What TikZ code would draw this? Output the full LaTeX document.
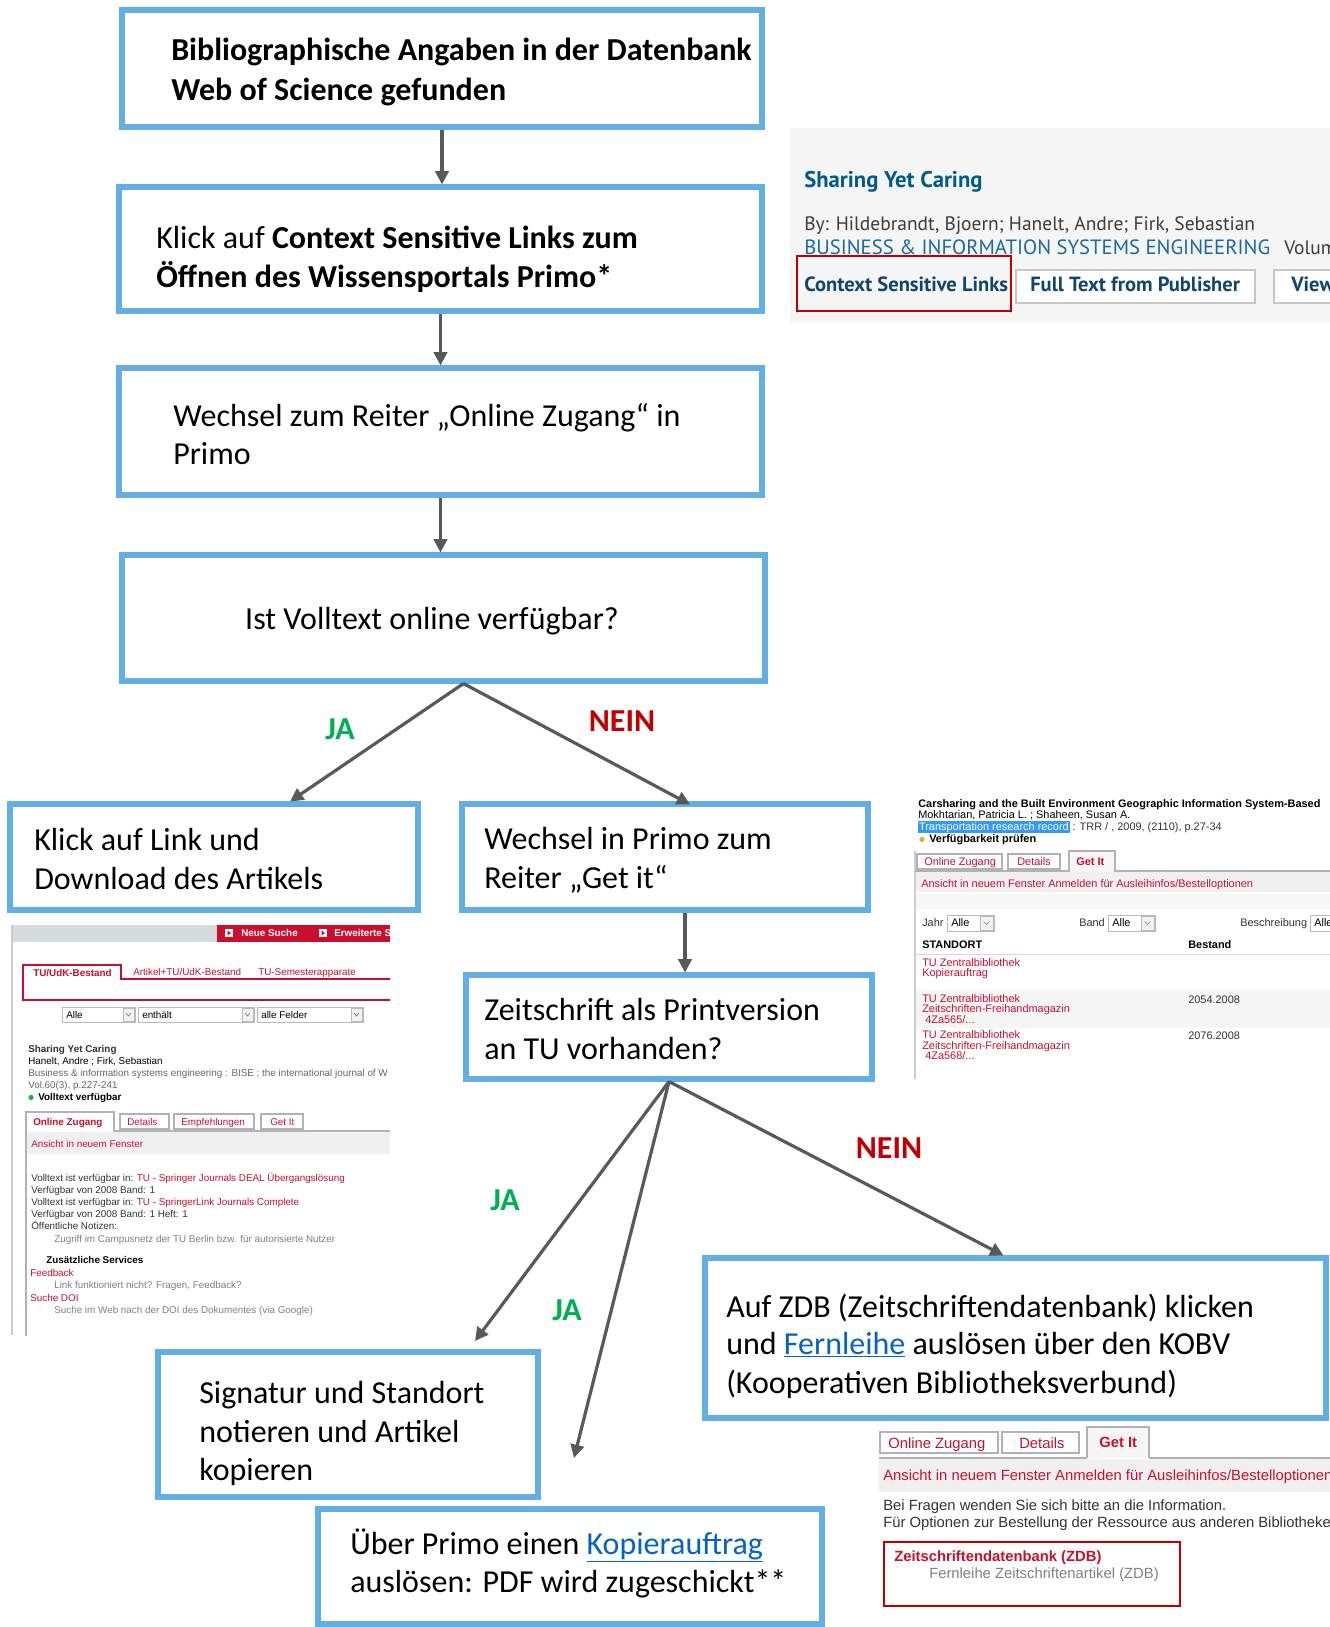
\documentclass[tikz,border=0pt]{standalone}
\usepackage{fontspec}
\setmainfont{Carlito}
\newfontfamily\arialf{Liberation Sans}
\newfontfamily\wosf{PT Sans}
\usetikzlibrary{arrows.meta,fit,calc}
\definecolor{boxblue}{RGB}{99,174,228}
\definecolor{arrgray}{RGB}{89,89,89}
\definecolor{jagreen}{RGB}{0,176,80}
\definecolor{neinred}{RGB}{192,0,0}
\definecolor{linkblue}{RGB}{5,99,193}
\definecolor{wosbg}{RGB}{245,245,245}
\definecolor{wostitle}{RGB}{0,90,140}
\definecolor{wosblue}{RGB}{25,105,165}
\definecolor{wosdark}{RGB}{16,70,110}
\definecolor{wostext}{RGB}{60,60,60}
\definecolor{primored}{RGB}{200,16,46}
\definecolor{ptext}{RGB}{51,51,51}
\definecolor{pgray}{RGB}{128,128,128}
\definecolor{hlblue}{RGB}{51,153,255}
\definecolor{vgreen}{RGB}{40,170,60}
\definecolor{vyellow}{RGB}{220,180,40}
\definecolor{headgray}{RGB}{214,219,224}
\begin{document}
\begin{tikzpicture}[x=0.75pt,y=-0.75pt,
 box/.style={draw=boxblue, line width=3.8pt, fill=white, inner sep=0pt},
 mt/.style={font=\fontsize{24}{29}\selectfont, anchor=base west, inner sep=0pt},
 conn/.style={draw=arrgray, line width=2.4pt, -{Triangle[length=10pt,width=10pt]}},
 jalab/.style={text=jagreen, font=\bfseries\fontsize{24}{29}\selectfont, inner sep=0pt},
 neinlab/.style={text=neinred, font=\bfseries\fontsize{24}{29}\selectfont, inner sep=0pt},
 wos/.style={font=\wosf\fontsize{14.6}{17}\selectfont, anchor=base west, inner sep=0pt, text=wostext},
 wosb/.style={wos, font=\wosf\bfseries\fontsize{15.4}{18}\selectfont, text=wosdark},
 pa/.style={font=\arialf\fontsize{7.4}{8.5}\selectfont, anchor=base west, inner sep=0pt, text=ptext},
 pab/.style={pa, font=\arialf\bfseries\fontsize{7.4}{8.5}\selectfont},
 pc/.style={font=\arialf\fontsize{8.2}{9.5}\selectfont, anchor=base west, inner sep=0pt, text=ptext},
 pcb/.style={pc, font=\arialf\bfseries\fontsize{8.2}{9.5}\selectfont},
 pb/.style={font=\arialf\fontsize{11.1}{13}\selectfont, anchor=base west, inner sep=0pt, text=ptext},
 pbb/.style={pb, font=\arialf\bfseries\fontsize{11.1}{13}\selectfont},
 tabbox/.style={draw=gray!60, line width=0.8pt, fill=white},
 ddbox/.style={draw=gray!55, line width=0.7pt, fill=white},
 ddarrow/.style={draw=gray!55, line width=0.6pt, fill=gray!10},
]
\useasboundingbox (0,0) rectangle (1330,1627);
\fill[white] (0,0) rectangle (1330,1627);

% ---------------- Screenshot 1: Web of Science ----------------
\fill[wosbg] (790,128) rectangle (1330,322);
\node[wos, font=\wosf\bfseries\fontsize{17}{20}\selectfont, text=wostitle] (w1) at (804,187) {Sharing Yet Caring};
\node[wos] (w2) at (804,230) {By: Hildebrandt, Bjoern; Hanelt, Andre; Firk, Sebastian};
\node[wos, font=\wosf\fontsize{15.5}{18}\selectfont, text=wosblue] (w3) at (804,254) {BUSINESS \& INFORMATION SYSTEMS ENGINEERING};
\node[wos] (w4) at (1284,254) {Volume};
\draw[neinred, line width=1.6pt] (797,256) rectangle (1011,311);
\node[wosb] (w5) at (804,291) {Context Sensitive Links};
\draw[fill=white, draw=gray!45, line width=1.2pt] (1016,270) rectangle (1255,303);
\node[wosb] (w6) at (1030,291) {Full Text from Publisher};
\draw[fill=white, draw=gray!45, line width=1.2pt] (1274,270) rectangle (1345,303);
\node[wosb] (w7) at (1291,291) {View};

% ---------------- Screenshot 2: Primo Online Zugang ----------------
\begin{scope}
\clip (10,923) rectangle (390,1335);
\draw[gray!40, line width=0.8pt] (12,925) -- (12,1335);
\fill[headgray] (13,925) rectangle (217,942);
\fill[primored] (217,925) rectangle (390,942);
\fill[white] (225,929) rectangle (233,937);
\fill[primored] (227.5,930.5) -- (231,933) -- (227.5,935.5) -- cycle;
\node[pab, text=white] (p1) at (241,936.5) {Neue Suche};
\fill[white] (319,929) rectangle (327,937);
\fill[primored] (321.5,930.5) -- (325,933) -- (321.5,935.5) -- cycle;
\node[pab, text=white] (p2) at (334,936.5) {Erweiterte Suche};
\draw[primored, line width=1.3pt] (392,979) -- (121,979) -- (121,965) -- (23,965) -- (23,1000) -- (392,1000);
\node[pab, text=primored] (p3) at (33,976) {TU/UdK-Bestand};
\node[pa, text=primored] (p4) at (133,975) {Artikel+TU/UdK-Bestand};
\node[pa, text=primored] (p5) at (258,975) {TU-Semesterapparate};
\draw[ddbox] (62,1007) rectangle (135,1022);
\draw[ddarrow] (123,1008) rectangle (134,1021);
\draw[gray, line width=0.5pt] (126,1013) -- (128.5,1016) -- (131,1013);
\node[pa, text=black] (p6) at (66,1018) {Alle};
\draw[ddbox] (138,1007) rectangle (254,1022);
\draw[ddarrow] (242,1008) rectangle (253,1021);
\draw[gray, line width=0.5pt] (245,1013) -- (247.5,1016) -- (250,1013);
\node[pa, text=black] (p7) at (142,1018) {enthält};
\draw[ddbox] (257,1007) rectangle (363,1022);
\draw[ddarrow] (351,1008) rectangle (362,1021);
\draw[gray, line width=0.5pt] (354,1013) -- (356.5,1016) -- (359,1013);
\node[pa, text=black] (p8) at (261,1018) {alle Felder};
\node[pab] (p9) at (28,1052) {Sharing Yet Caring};
\node[pa, text=black] (p10) at (28,1064) {Hanelt, Andre ; Firk, Sebastian};
\node[pa, text=pgray!80!black] (p11) at (28,1076) {Business \& information systems engineering : BISE ; the international journal of W};
\node[pa, text=pgray!80!black] (p12) at (28,1088) {Vol.60(3), p.227-241};
\fill[vgreen] (31,1097.5) circle (2.6);
\node[pab, text=black] (p13) at (38,1100) {Volltext verfügbar};
\draw[gray!60, line width=0.8pt] (26,1340) -- (26,1112) -- (114,1112) -- (114,1131) -- (392,1131);
\draw[tabbox] (120,1114) rectangle (169,1129);
\draw[tabbox] (174,1114) rectangle (254,1129);
\draw[tabbox] (261,1114) rectangle (303,1129);
\node[pab, text=primored] (p14) at (33,1125) {Online Zugang};
\node[pa, text=primored] (p15) at (127,1125) {Details};
\node[pa, text=primored] (p16) at (181,1125) {Empfehlungen};
\node[pa, text=primored] (p17) at (270,1125) {Get It};
\fill[gray!12] (26.5,1132) rectangle (392,1154);
\node[pa, text=primored] (p18) at (31,1147) {Ansicht in neuem Fenster};
\node[pa] (p19) at (31,1181) {Volltext ist verfügbar in: \textcolor{primored}{TU - Springer Journals DEAL Übergangslösung}};
\node[pa] (p20) at (31,1193) {Verfügbar von 2008 Band: 1};
\node[pa] (p21) at (31,1205) {Volltext ist verfügbar in: \textcolor{primored}{TU - SpringerLink Journals Complete}};
\node[pa] (p22) at (31,1217) {Verfügbar von 2008 Band: 1 Heft: 1};
\node[pa] (p23) at (31,1229) {Öffentliche Notizen:};
\node[pa, text=pgray] (p24) at (54,1242) {Zugriff im Campusnetz der TU Berlin bzw. für autorisierte Nutzer};
\node[pab, text=black] (p25) at (46,1263) {Zusätzliche Services};
\node[pa, text=primored] (p26) at (30,1276) {Feedback};
\node[pa, text=pgray] (p27) at (54,1288) {Link funktioniert nicht? Fragen, Feedback?};
\node[pa, text=primored] (p28) at (30,1301) {Suche DOI};
\node[pa, text=pgray] (p29) at (54,1313) {Suche im Web nach der DOI des Dokumentes (via Google)};
\end{scope}

% ---------------- Screenshot 3: Primo Get It ----------------
\draw[gray!40, line width=0.8pt] (915,851) -- (915,1079);
\node[pcb, text=black] (q1) at (918,807) {Carsharing and the Built Environment Geographic Information System-Based};
\node[pc, text=black] (q2) at (918,818) {Mokhtarian, Patricia L. ; Shaheen, Susan A.};
\node[pc] (q3) at (918,830) {{\setlength{\fboxsep}{0.6pt}\colorbox{hlblue}{\textcolor{white}{Transportation research record}}} : TRR / , 2009, (2110), p.27-34};
\fill[vyellow] (922,839.5) circle (2.6);
\node[pcb, text=black] (q4) at (929,842) {Verfügbarkeit prüfen};
\draw[gray!60, line width=0.8pt] (915,871) -- (1330,871);
\draw[tabbox] (917,854) rectangle (1002,869);
\draw[tabbox] (1008,854) rectangle (1060,869);
\draw[draw=gray!60, line width=0.8pt, fill=gray!6] (1069,872) -- (1069,851) -- (1115,851) -- (1115,872);
\node[pc, text=primored] (q5) at (924,865) {Online Zugang};
\node[pc, text=primored] (q6) at (1017,865) {Details};
\node[pcb, text=primored] (q7) at (1076,865) {Get It};
\fill[gray!12] (916,872) rectangle (1330,892);
\node[pc, text=primored] (q8) at (921,887) {Ansicht in neuem Fenster Anmelden für Ausleihinfos/Bestelloptionen};
\fill[gray!6] (916,894) rectangle (1330,909);
\node[pc] (q9) at (922,926) {Jahr};
\draw[ddbox] (947,915) rectangle (994,931);
\draw[ddarrow] (980,916) rectangle (993,930);
\draw[gray, line width=0.5pt] (983.5,921.5) -- (986.5,924.5) -- (989.5,921.5);
\node[pc, text=black] (q10) at (951,926) {Alle};
\node[pc] (q11) at (1079,926) {Band};
\draw[ddbox] (1108,915) rectangle (1155,931);
\draw[ddarrow] (1141,916) rectangle (1154,930);
\draw[gray, line width=0.5pt] (1144.5,921.5) -- (1147.5,924.5) -- (1150.5,921.5);
\node[pc, text=black] (q12) at (1112,926) {Alle};
\node[pc] (q13) at (1240,926) {Beschreibung};
\draw[ddbox] (1310,915) rectangle (1345,931);
\node[pc, text=black] (q14) at (1314,926) {Alle};
\node[pcb, text=black] (q15) at (922,948) {STANDORT};
\node[pcb, text=black] (q16) at (1188,948) {Bestand};
\draw[gray!30, line width=0.6pt] (916,954) -- (1330,954);
\node[pc, text=primored] (q17) at (922,966) {TU Zentralbibliothek};
\node[pc, text=primored] (q18) at (922,976) {Kopierauftrag};
\fill[gray!8] (916,990) rectangle (1330,1028);
\node[pc, text=primored] (q19) at (922,1002) {TU Zentralbibliothek};
\node[pc, text=primored] (q20) at (922,1012) {Zeitschriften-Freihandmagazin};
\node[pc, text=primored] (q21) at (925,1023) {4Za565/...};
\node[pc] (q22) at (1188,1003) {2054.2008};
\node[pc, text=primored] (q23) at (922,1038) {TU Zentralbibliothek};
\node[pc, text=primored] (q24) at (922,1049) {Zeitschriften-Freihandmagazin};
\node[pc, text=primored] (q25) at (925,1059) {4Za568/...};
\node[pc] (q26) at (1188,1039) {2076.2008};

% ---------------- Flowchart boxes ----------------
\node[box, fit={(122,10) (762,127)}] (b1) {};
\node[box, fit={(119,187) (762,311)}] (b2) {};
\node[box, fit={(119,368) (762,495)}] (b3) {};
\node[box, fit={(122,555) (765,681)}] (b4) {};
\node[box, fit={(10,804) (418,910)}] (b5) {};
\node[box, fit={(462,804) (868,910)}] (b6) {};
\node[box, fit={(466,975) (872,1079)}] (b7) {};
\node[box, fit={(158,1352) (538,1497)}] (b8) {};
\node[box, fit={(318,1509) (822,1624)}] (b9) {};
\node[box, fit={(705,1258) (1326,1418)}] (b10) {};

\node[mt, font=\bfseries\fontsize{24}{29}\selectfont] (t1a) at (171,61) {Bibliographische Angaben in der Datenbank};
\node[mt, font=\bfseries\fontsize{24}{29}\selectfont] (t1b) at (171,100) {Web of Science gefunden};
\node[mt] (t2a) at (156,248) {Klick auf \textbf{Context Sensitive Links zum}};
\node[mt] (t2b) at (156,287) {\textbf{Öffnen des Wissensportals Primo*}};
\node[mt] (t3a) at (173,426) {Wechsel zum Reiter „Online Zugang“ in};
\node[mt] (t3b) at (173,464) {Primo};
\node[mt, anchor=base] (t4) at (432,629) {Ist Volltext online verfügbar?};
\node[mt] (t5a) at (34,850) {Klick auf Link und};
\node[mt] (t5b) at (34,889) {Download des Artikels};
\node[mt] (t6a) at (484,849) {Wechsel in Primo zum};
\node[mt] (t6b) at (484,888) {Reiter „Get it“};
\node[mt] (t7a) at (484,1020) {Zeitschrift als Printversion};
\node[mt] (t7b) at (484,1059) {an TU vorhanden?};
\node[mt] (t8a) at (199,1403) {Signatur und Standort};
\node[mt] (t8b) at (199,1442) {notieren und Artikel};
\node[mt] (t8c) at (199,1480) {kopieren};
\node[mt] (t9a) at (350,1554) {Über Primo einen \textcolor{linkblue}{\underline{Kopierauftrag}}};
\node[mt] (t9b) at (350,1592) {auslösen: PDF wird zugeschickt**};
\node[mt] (t10a) at (726,1317) {Auf ZDB (Zeitschriftendatenbank) klicken};
\node[mt] (t10b) at (726,1354) {und \textcolor{linkblue}{\underline{Fernleihe}} auslösen über den KOBV};
\node[mt] (t10c) at (726,1393) {(Kooperativen Bibliotheksverbund)};

% ---------------- Screenshot 4: Primo Get It ZDB ----------------
\fill[white] (879,1421) rectangle (1330,1627);
\draw[tabbox, line width=1.4pt] (880,1432) rectangle (998,1453);
\draw[tabbox, line width=1.4pt] (1002,1432) rectangle (1079,1453);
\draw[draw=gray!60, line width=1.4pt, fill=gray!8] (1087,1458) -- (1087,1427) -- (1149,1427) -- (1149,1458);
\draw[gray!60, line width=1.6pt] (879,1458) -- (1087,1458) (1149,1458) -- (1330,1458);
\node[pb, text=primored] (r1) at (888,1448) {Online Zugang};
\node[pb, text=primored] (r2) at (1019,1448) {Details};
\node[pbb, text=primored] (r3) at (1099,1447) {Get It};
\fill[gray!12] (879,1459) rectangle (1330,1492);
\node[pb, text=primored] (r4) at (883,1480) {Ansicht in neuem Fenster Anmelden für Ausleihinfos/Bestelloptionen};
\node[pb] (r5) at (883,1510) {Bei Fragen wenden Sie sich bitte an die Information.};
\node[pb] (r6) at (883,1527) {Für Optionen zur Bestellung der Ressource aus anderen Bibliotheken};
\draw[neinred, line width=2pt] (884,1542) rectangle (1180,1606);
\node[pbb, text=primored] (r7) at (894,1561) {Zeitschriftendatenbank (ZDB)};
\node[pb, text=pgray] (r8) at (929,1578) {Fernleihe Zeitschriftenartikel (ZDB)};

% ---------------- Connectors ----------------
\coordinate (c4) at ($(b4.south)+(20,0)$);
\coordinate (c6) at ($(b6.south)+(20,0)$);
\coordinate (ja1end) at (475,1341);
\coordinate (ja2end) at (574,1458);
\draw[conn] (b1.south) -- (b1.south |- b2.north);
\draw[conn] (b2.south) -- (b2.south |- b3.north);
\draw[conn] (b3.south) -- (b3.south |- b4.north);
\draw[conn] (c4) -- ($(b5.north)+(76,0)$);
\draw[conn] (c4) -- ($(b6.north)+(25,3)$);
\draw[conn] (c6) -- (c6 |- b7.north);
\draw[conn] (b7.south) -- (ja1end);
\draw[conn] (b7.south) -- (ja2end);
\draw[conn] (b7.south) -- ($(b10.north)+(-12,0)$);

\node[jalab] (l1) at (340,729) {JA};
\node[neinlab] (l2) at (622,721) {NEIN};
\node[jalab] (l3) at (505,1200) {JA};
\node[jalab] (l4) at (567,1310) {JA};
\node[neinlab] (l5) at (889,1148) {NEIN};
\end{tikzpicture}
\end{document}
